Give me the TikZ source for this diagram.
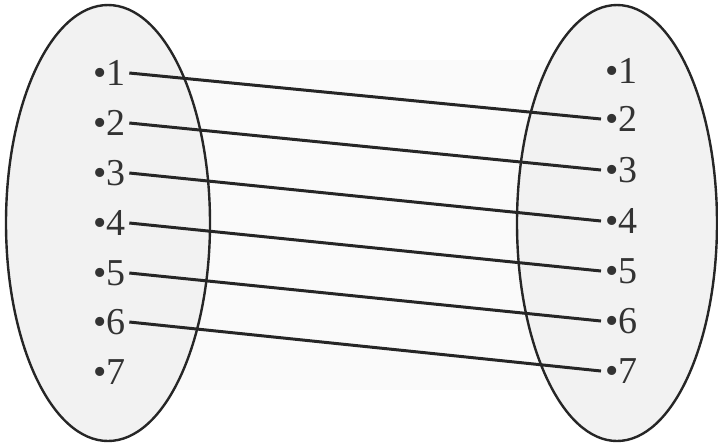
\documentclass[tikz,border=0pt]{standalone}
\usepackage{fontspec}
\setmainfont{Liberation Serif}
\begin{document}
\begin{tikzpicture}[x=0.5pt,y=-0.5pt,
  setbox/.style={draw=black!85,line width=1.2pt,fill=black!5},
  lab/.style={anchor=west,inner sep=0pt,outer sep=2pt,font=\fontsize{19}{19}\selectfont,text=black!80},
  link/.style={draw=black!85,line width=1.5pt}]
\useasboundingbox[fill=white] (0,0) rectangle (718,447);
\fill[black!2] (108,60) rectangle (617,390);
\draw[setbox] (108,223) ellipse [x radius=102,y radius=218];
\draw[setbox] (617,223) ellipse [x radius=100,y radius=218];
\foreach \i/\yl/\yr in {1/73/71,2/123/119,3/173/170,4/223/221,5/273/271,6/322/321,7/372/371}{
  \node[lab] (L\i) at (89,\yl) {•\i};
  \node[lab] (R\i) at (601,\yr) {•\i};
}
\foreach \i [evaluate=\i as \j using int(\i+1)] in {1,...,6}{
  \draw[link] (L\i.east) -- (R\j.west);
}
\end{tikzpicture}
\end{document}
